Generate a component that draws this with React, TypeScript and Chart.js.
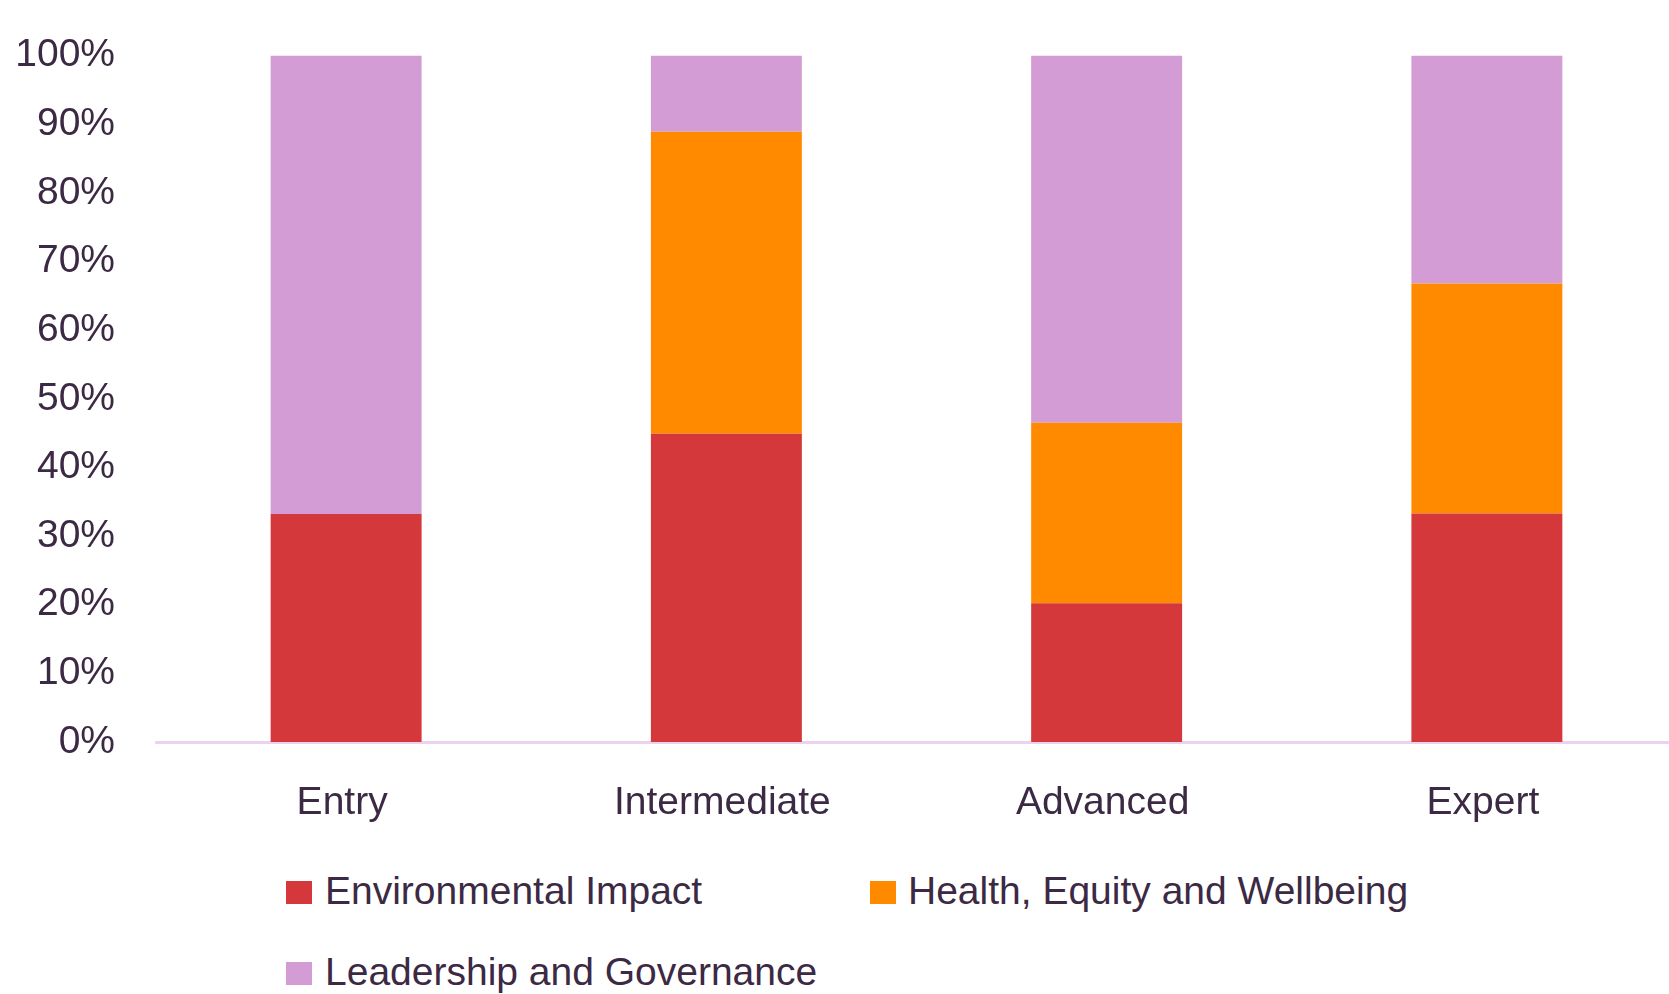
import React, { useEffect, useRef } from "react";
import { Chart, registerables } from "chart.js";

Chart.register(...registerables);

const categories = ["Entry", "Intermediate", "Advanced", "Expert"];
const seriesNames = ["Environmental Impact", "Health, Equity and Wellbeing", "Leadership and Governance"];
const environmentalImpact = [33.2, 44.9, 20.2, 33.3];
const healthEquityWellbeing = [0, 44.0, 26.3, 33.5];
const leadershipGovernance = [66.8, 11.1, 53.5, 33.2];
const seriesColors = ["#D5383A", "#FF8A00", "#D49CD4"];
const yTicks = [0, 10, 20, 30, 40, 50, 60, 70, 80, 90, 100];

const TEXT = "#3c2944";
const FONT = "'Liberation Sans', Arial, sans-serif";

export default function App() {
  const ref = useRef<HTMLCanvasElement | null>(null);

  useEffect(() => {
    if (!ref.current) return;
    const values = [environmentalImpact, healthEquityWellbeing, leadershipGovernance];
    const chart = new Chart(ref.current, {
      type: "bar",
      data: {
        labels: categories,
        datasets: seriesNames.map((name, i) => ({
          label: name,
          data: values[i],
          backgroundColor: seriesColors[i],
          borderWidth: 0,
          categoryPercentage: 1,
          barPercentage: 0.397,
        })),
      },
      options: {
        responsive: false,
        animation: false,
        devicePixelRatio: 1,
        layout: { padding: { top: 55.5, left: 0, right: 0, bottom: 0 } },
        plugins: {
          legend: { display: false },
          tooltip: { enabled: false },
        },
        scales: {
          x: {
            stacked: true,
            grid: { display: false, drawTicks: false },
            border: { display: true, color: "#ecd2ee", width: 3 },
            ticks: {
              color: TEXT,
              font: { family: FONT, size: 39 },
              padding: 38,
              labelOffset: -4,
              maxRotation: 0,
            },
            afterFit: (s: any) => {
              s.height = 98;
              s.paddingLeft = 0;
              s.paddingRight = 0;
            },
          },
          y: {
            stacked: true,
            min: 0,
            max: 100,
            grid: { display: false, drawTicks: false },
            border: { display: false },
            afterBuildTicks: (s: any) => {
              s.ticks = yTicks.map((v) => ({ value: v }));
            },
            ticks: {
              color: TEXT,
              font: { family: FONT, size: 39 },
              padding: 41,
              callback: (v: any) => v + "%",
            },
            afterFit: (s: any) => {
              s.width = 156;
              s.paddingTop = 0;
              s.paddingBottom = 0;
            },
          },
        },
      },
    });
    return () => chart.destroy();
  }, []);

  const legendPos = [
    { box: 286, text: 325, top: 0 },
    { box: 869.5, text: 908, top: 0 },
    { box: 286, text: 325, top: 81 },
  ];

  return (
    <div
      style={{
        position: "fixed",
        left: 0,
        top: 0,
        width: 1669,
        height: 994,
        overflow: "hidden",
        background: "#ffffff",
      }}
    >
      <canvas
        ref={ref}
        width={1677}
        height={840}
        style={{ position: "absolute", left: 0, top: 0, width: 1677, height: 840 }}
      />
      {seriesNames.map((name, i) => (
        <React.Fragment key={name}>
          <div
            style={{
              position: "absolute",
              left: legendPos[i].box,
              top: 881 + legendPos[i].top,
              width: 26,
              height: 23,
              background: seriesColors[i],
            }}
          />
          <div
            style={{
              position: "absolute",
              left: legendPos[i].text,
              top: 871 + legendPos[i].top,
              fontFamily: FONT,
              fontSize: 39,
              lineHeight: "39px",
              color: TEXT,
              whiteSpace: "nowrap",
            }}
          >
            {name}
          </div>
        </React.Fragment>
      ))}
    </div>
  );
}
